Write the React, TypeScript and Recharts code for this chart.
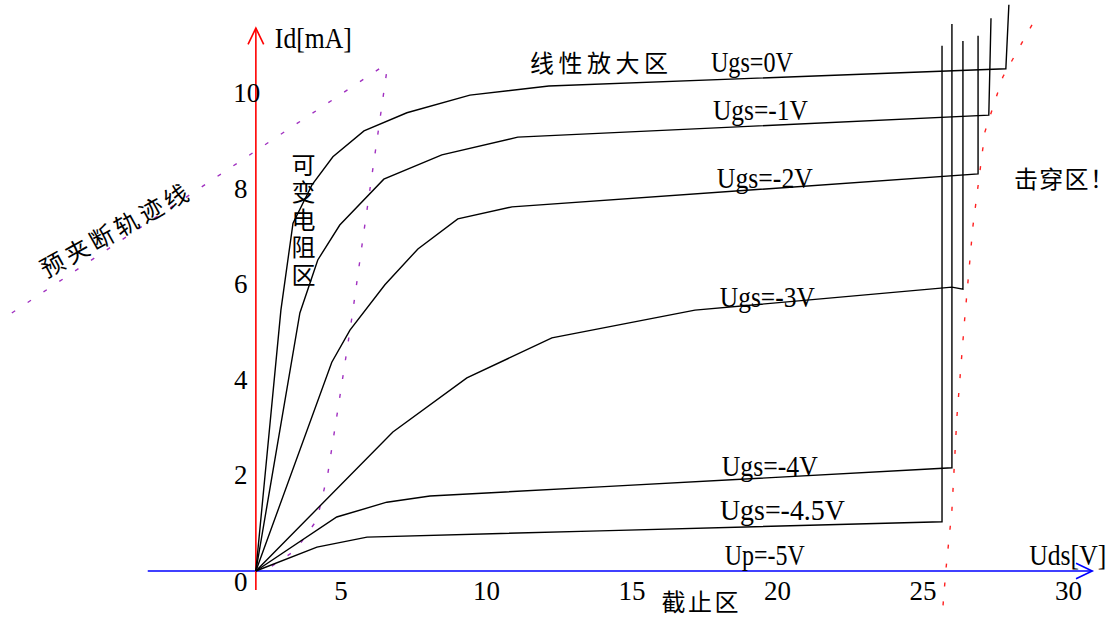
import React from 'react';
import { LineChart, Line, XAxis, YAxis, ReferenceLine, ReferenceDot } from 'recharts';

// JFET output characteristics, [Uds (V), Id (mA)] for each gate voltage
const ugs0 = [[0, 0], [0.91, 5.46], [1.35, 7.28], [2.04, 8.08], [2.8, 8.67], [3.93, 9.21], [5.49, 9.59], [7.78, 9.96], [10.65, 10.15], [27.26, 10.51], [27.37, 11.85]];
const ugs1 = [[0, 0], [1.6, 5.4], [2.25, 6.51], [3.05, 7.24], [4.65, 8.2], [6.76, 8.71], [9.52, 9.08], [26.64, 9.54], [26.72, 11.57]];
const ugs2 = [[0, 0], [2.76, 4.37], [3.42, 5.04], [4.69, 5.99], [5.89, 6.74], [7.34, 7.37], [9.31, 7.62], [26.25, 8.31], [26.25, 11.2]];
const ugs3 = [[0, 0], [4.98, 2.91], [7.67, 4.04], [10.76, 4.88], [15.96, 5.46], [25.3, 5.94], [25.7, 5.9], [25.7, 11.09]];
const ugs4 = [[0, 0], [2.94, 1.13], [4.76, 1.44], [6.33, 1.57], [12.5, 1.76], [25.3, 2.16], [25.3, 11.45]];
const ugs45 = [[0, 0], [2.22, 0.5], [4.04, 0.71], [12.5, 0.84], [24.94, 1.03], [24.94, 10.99]];

// pinch-off locus and breakdown locus
const pinchLocus = [[0.58, 0.1], [1.45, 0.44], [2.22, 1.07], [2.62, 2.05], [3.05, 3.64], [3.49, 5.3], [3.96, 7.24], [4.44, 9.17], [4.8, 10.63]];
const pinchGuide = [[-8.87, 5.4], [4.8, 10.63]];
const breakdown = [[28.21, 11.43], [27.15, 10.34], [26.5, 9.19], [26.06, 7.2], [25.77, 5.32], [25.48, 3.22], [25.3, 1.28], [25.08, 0.02], [24.97, -0.77]];

const xTicks = [5, 10, 15, 20, 25, 30];
const yTicks = [0, 2, 4, 6, 8, 10];

const curves = [ugs0, ugs1, ugs2, ugs3, ugs4, ugs45];

// the hand-drawn x tick numbers sit on a slightly different spacing than the curves
const xTickAt = (v: number) => v * 1.058 - 2.2;

type Note = { t: string; x: number; y: number; w?: number; cjk?: boolean; rot?: number; vert?: boolean };

const notes: Note[] = [
  { t: 'Id[mA]', x: 2.09, y: 11.16, w: 77 },
  { t: '线性放大区', x: 12.47, y: 10.67, w: 138, cjk: true },
  { t: 'Ugs=0V', x: 18.03, y: 10.66, w: 82 },
  { t: 'Ugs=-1V', x: 18.34, y: 9.65, w: 95 },
  { t: 'Ugs=-2V', x: 18.5, y: 8.23, w: 96 },
  { t: 'Ugs=-3V', x: 18.59, y: 5.74, w: 95 },
  { t: 'Ugs=-4V', x: 18.68, y: 2.2, w: 96 },
  { t: 'Ugs=-4.5V', x: 19.14, y: 1.28, w: 125 },
  { t: 'Up=-5V', x: 18.5, y: 0.34, w: 80 },
  { t: 'Uds[V]', x: 29.51, y: 0.34, w: 77 },
  { t: '截止区', x: 16.14, y: -0.62, w: 77, cjk: true },
  { t: '击穿区！', x: 29.37, y: 8.23, w: 100, cjk: true },
  { t: '可变电阻区', x: 1.73, y: 7.35, w: 134, cjk: true, vert: true },
  { t: '预夹断轨迹线', x: -5.18, y: 7.15, w: 165, cjk: true, rot: -29 },
];

const SERIF = '"Liberation Serif", "Times New Roman", serif';
const CJK = '"Noto Sans CJK SC", sans-serif';

const pts = (a: number[][]) => a.map(([x, y]) => ({ x, y }));

const drawNote = (n: Note) => (p: any) => {
  const { cx, cy } = p;
  return (
    <text
      x={cx}
      y={cy}
      transform={n.rot ? `rotate(${n.rot} ${cx} ${cy})` : undefined}
      style={n.vert ? { writingMode: 'vertical-rl' } : undefined}
      fontFamily={n.cjk ? CJK : SERIF}
      fontSize={n.cjk ? 24 : 29}
      textAnchor="middle"
      dominantBaseline="central"
      textLength={n.w}
      lengthAdjust={n.cjk ? 'spacing' : 'spacingAndGlyphs'}
      fill="#000"
    >
      {n.t}
    </text>
  );
};

const tickText = (v: number, dx: number, dy: number) => (p: any) => (
  <text x={p.cx + dx} y={p.cy + dy} fontFamily={SERIF} fontSize={27} textAnchor="middle" dominantBaseline="central" fill="#000">
    {v}
  </text>
);

const arrowLine = (p: any) => {
  const { x1, y1, x2, y2, stroke } = p;
  const a = Math.atan2(y2 - y1, x2 - x1);
  const len = 18;
  const spread = 0.45;
  const arm = (s: number) => `${x2 - len * Math.cos(a + s * spread)},${y2 - len * Math.sin(a + s * spread)}`;
  return (
    <g>
      <line x1={x1} y1={y1} x2={x2} y2={y2} stroke={stroke} strokeWidth={1.6} />
      <polyline points={`${arm(1)} ${x2},${y2} ${arm(-1)}`} fill="none" stroke={stroke} strokeWidth={1.6} />
    </g>
  );
};

const dotted = { strokeWidth: 1.4, strokeDasharray: '4 15', dot: false, activeDot: false, isAnimationActive: false } as const;

export default function App() {
  return (
    <div style={{ position: 'absolute', left: 0, top: 0, background: '#fff' }}>
      <LineChart width={1117} height={625} margin={{ top: 0, right: 0, bottom: 0, left: 0 }}>
        <XAxis type="number" dataKey="x" domain={[-9.3, 31.3]} allowDataOverflow hide />
        <YAxis type="number" domain={[-1.13, 11.95]} allowDataOverflow hide />

        <ReferenceLine segment={[{ x: -3.93, y: 0 }, { x: 30.4, y: 0 }]} stroke="#0000ff" shape={arrowLine} />
        <ReferenceLine segment={[{ x: 0, y: -0.4 }, { x: 0, y: 11.36 }]} stroke="#ff0000" shape={arrowLine} />

        <Line data={pts(pinchGuide)} dataKey="y" stroke="#a030c0" {...dotted} />
        <Line data={pts(pinchLocus)} dataKey="y" stroke="#a030c0" {...dotted} />
        <Line data={pts(breakdown)} dataKey="y" stroke="#ff2020" {...dotted} />

        {curves.map((c, i) => (
          <Line key={i} data={pts(c)} dataKey="y" type="linear" stroke="#000" strokeWidth={1.4} dot={false} activeDot={false} isAnimationActive={false} />
        ))}

        {xTicks.map((v) => (
          <ReferenceDot key={`xt${v}`} x={xTickAt(v)} y={0} shape={tickText(v, 0, 20)} />
        ))}
        {yTicks.map((v) => (
          <ReferenceDot key={`yt${v}`} x={0} y={v} shape={tickText(v, v === 10 ? -9 : -15, v === 0 ? 11 : 0)} />
        ))}
        {notes.map((n, i) => (
          <ReferenceDot key={`n${i}`} x={n.x} y={n.y} shape={drawNote(n)} />
        ))}
      </LineChart>
    </div>
  );
}
